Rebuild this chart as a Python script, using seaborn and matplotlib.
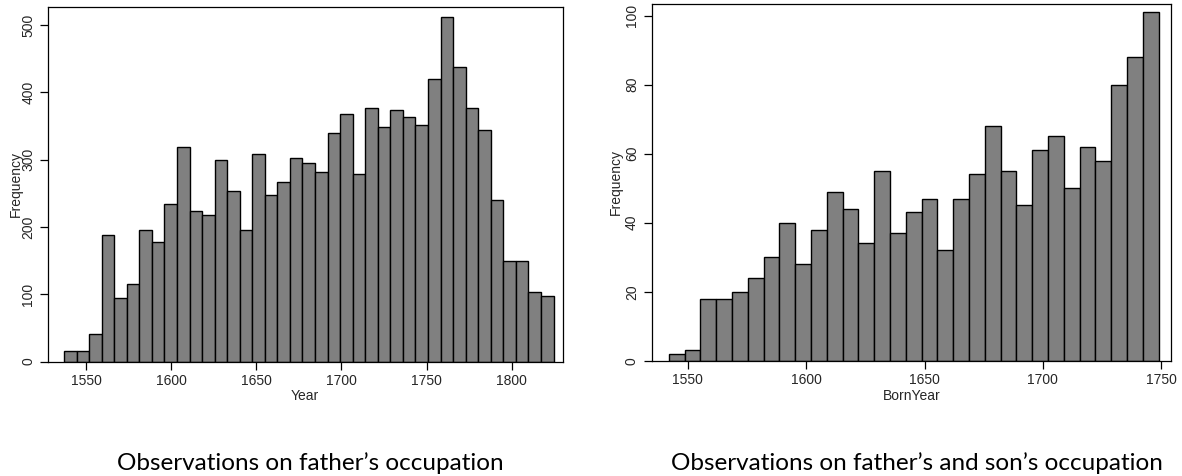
import numpy as np
import pandas as pd
import matplotlib
matplotlib.use("Agg")
import matplotlib.pyplot as plt
import seaborn as sns

# ---- data ----
father_bin_start = 1537.1
father_bin_width = 7.37
father_counts = [15, 15, 41, 188, 95, 115, 195, 177, 234, 318,
                 224, 218, 300, 253, 195, 308, 247, 267, 302, 295,
                 281, 340, 367, 279, 377, 349, 373, 363, 351, 420,
                 512, 437, 377, 344, 240, 150, 150, 103, 97]

son_bin_start = 1542.0
son_bin_width = 6.674
son_counts = [2, 3, 18, 18, 20, 24, 30, 40, 28, 38,
              49, 44, 34, 55, 37, 43, 47, 32, 47, 54,
              68, 55, 45, 61, 65, 50, 62, 58, 80, 88, 101]

left_xticks = [1550, 1600, 1650, 1700, 1750, 1800]
left_yticks = [0, 100, 200, 300, 400, 500]
right_xticks = [1550, 1600, 1650, 1700, 1750]
right_yticks = [0, 20, 40, 60, 80, 100]

left_xlabel = "Year"
right_xlabel = "BornYear"
ylabel = "Frequency"
left_caption = "Observations on father\u2019s occupation"
right_caption = "Observations on father\u2019s and son\u2019s occupation"

sns.set_style("ticks")
plt.rcParams['font.family'] = ['Liberation Sans', 'DejaVu Sans']

fig = plt.figure(figsize=(11.82, 4.76), dpi=100)
W, H = 1182, 476
ax1 = fig.add_axes([48 / W, 1 - 361.5 / H, (562.5 - 48) / W, (361.5 - 7) / H])
ax2 = fig.add_axes([651.5 / W, 1 - 360.7 / H, (1171 - 651.5) / W, (360.7 - 4) / H])


def draw(ax, start, width, counts, xlim, ylim, xticks, yticks, xlabel, ylab_x):
    n = len(counts)
    edges = [float(start + width * i) for i in range(n + 1)]
    centers = [(edges[i] + edges[i + 1]) / 2 for i in range(n)]
    df = pd.DataFrame({"x": centers, "w": counts})
    sns.histplot(data=df, x="x", weights="w", bins=edges, ax=ax,
                 color="#808080", edgecolor="black", linewidth=1.0, alpha=1.0)
    ax.set_xlim(*xlim)
    ax.set_ylim(*ylim)
    ax.set_xticks(xticks)
    ax.set_yticks(yticks)
    ax.set_xticklabels([str(t) for t in xticks], fontsize=10, family=["Liberation Sans"])
    ax.set_yticklabels([str(t) for t in yticks], fontsize=10, rotation=90, va="center",
                       family=["Liberation Sans"])
    ax.tick_params(axis="both", length=6, width=0.9, color="black", pad=3)
    ax.set_xlabel(xlabel, fontsize=10, labelpad=1, family=["Liberation Sans"])
    ax.set_ylabel(ylabel, fontsize=10, family=["Liberation Sans"])
    ax.yaxis.set_label_coords(ylab_x, 0.5)
    for s in ax.spines.values():
        s.set_visible(True)
        s.set_color("black")
        s.set_linewidth(0.9)


draw(ax1, father_bin_start, father_bin_width, father_counts,
     (1527.7, 1829.8), (0, 526.7), left_xticks, left_yticks, left_xlabel, -0.0486)
draw(ax2, son_bin_start, son_bin_width, son_counts,
     (1534.7, 1754.1), (0, 103.4), right_xticks, right_yticks, right_xlabel, -0.0543)

fig.text(310.5 / W, 1 - 463 / H, left_caption, ha="center", va="center",
         fontsize=17.5, family=["Lato", "DejaVu Sans"], color="black")
fig.text(916.5 / W, 1 - 463 / H, right_caption, ha="center", va="center",
         fontsize=17.5, family=["Lato", "DejaVu Sans"], color="black")

fig.savefig("out.png", dpi=100)
